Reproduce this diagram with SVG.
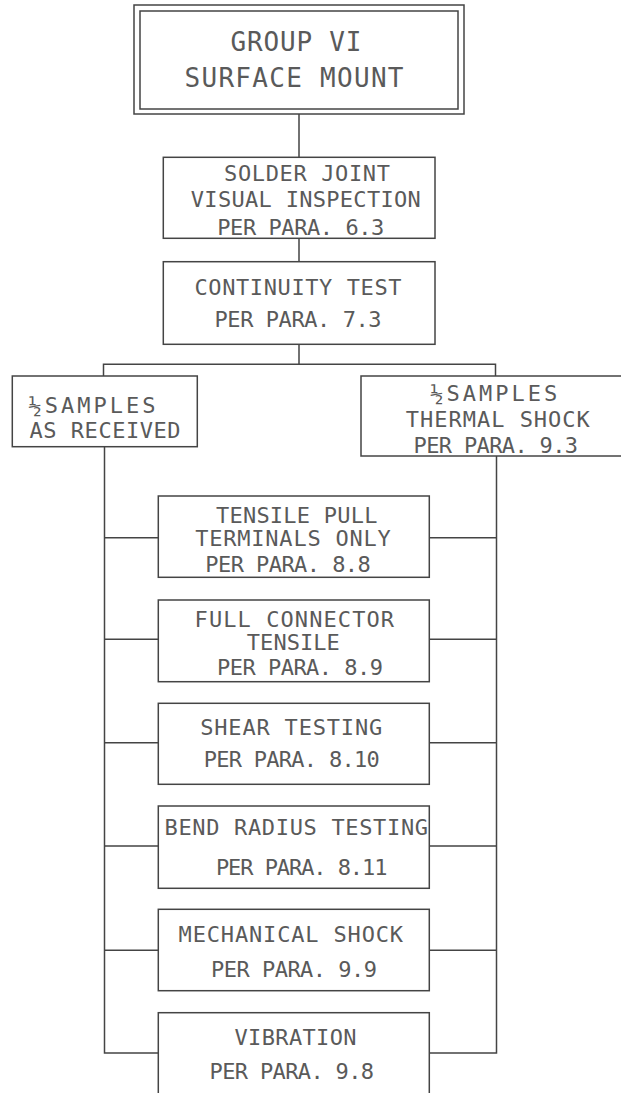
<svg xmlns="http://www.w3.org/2000/svg" width="621" height="1093" viewBox="0 0 621 1093">
<style>
.b{fill:#fff;stroke:#444;stroke-width:1.5}
.c{fill:none;stroke:#444;stroke-width:1.5}
text{font-family:"DejaVu Sans Mono","Liberation Mono",monospace;font-size:22px;fill:#5a5a5a;text-anchor:middle}
.t{font-size:26px}
.s{text-anchor:start}
</style>
<rect width="621" height="1093" fill="#fff"/>
<g id="connectors">
<path class="c" d="M299 114V157.3M299 238.3V261.7M299 344.3V364.3M103.5 376V364.3H495.5V376"/>
<path class="c" d="M104.5 446.7V1053H158.3M104.5 537.7H158.3M104.5 639.3H158.3M104.5 742.7H158.3M104.5 846H158.3M104.5 950.3H158.3"/>
<path class="c" d="M496.5 456V1053H429.3M496.5 537.7H429.3M496.5 639.3H429.3M496.5 742.7H429.3M496.5 846H429.3M496.5 950.3H429.3"/>
</g>
<g id="group6">
<rect class="b" x="134" y="5" width="330" height="109"/>
<rect class="b" x="140" y="11" width="318" height="98"/>
<text class="t" x="296" y="50.7" textLength="131" lengthAdjust="spacing">GROUP VI</text>
<text class="t" x="294" y="86.7" textLength="219" lengthAdjust="spacing">SURFACE MOUNT</text>
</g>
<g id="solder">
<rect class="b" x="163.3" y="157.3" width="271.7" height="81"/>
<text x="307" y="180.7" textLength="166" lengthAdjust="spacing">SOLDER JOINT</text>
<text x="305.8" y="207.3" textLength="230" lengthAdjust="spacing">VISUAL INSPECTION</text>
<text x="300.8" y="235" textLength="167" lengthAdjust="spacing">PER PARA. 6.3</text>
</g>
<g id="continuity">
<rect class="b" x="163.3" y="261.7" width="271.7" height="82.6"/>
<text x="298" y="295" textLength="207" lengthAdjust="spacing">CONTINUITY TEST</text>
<text x="298" y="327.3" textLength="167" lengthAdjust="spacing">PER PARA. 7.3</text>
</g>
<g id="as-received">
<rect class="b" x="12.3" y="376" width="185" height="70.7"/>
<text class="s" x="28.5" y="412.7" textLength="127" lengthAdjust="spacing">½SAMPLES</text>
<text class="s" x="29.5" y="437.7" textLength="151" lengthAdjust="spacing">AS RECEIVED</text>
</g>
<g id="thermal-shock">
<rect class="b" x="361" y="376" width="280" height="80"/>
<text x="493.8" y="400.7" textLength="127" lengthAdjust="spacing">½SAMPLES</text>
<text x="497.8" y="426.7" textLength="184" lengthAdjust="spacing">THERMAL SHOCK</text>
<text x="495.8" y="453.3" textLength="164.5" lengthAdjust="spacing">PER PARA. 9.3</text>
</g>
<g id="tensile-pull">
<rect class="b" x="158.3" y="496" width="271" height="81.3"/>
<text x="296.7" y="522.7" textLength="161.5" lengthAdjust="spacing">TENSILE PULL</text>
<text x="293" y="546" textLength="195.5" lengthAdjust="spacing">TERMINALS ONLY</text>
<text x="288" y="571.7" textLength="165.5" lengthAdjust="spacing">PER PARA. 8.8</text>
</g>
<g id="full-connector">
<rect class="b" x="158.3" y="600" width="271" height="81.7"/>
<text x="294.3" y="626.7" textLength="199.5" lengthAdjust="spacing">FULL CONNECTOR</text>
<text x="293.3" y="650" textLength="93" lengthAdjust="spacing">TENSILE</text>
<text x="300" y="675" textLength="166" lengthAdjust="spacing">PER PARA. 8.9</text>
</g>
<g id="shear">
<rect class="b" x="158.3" y="703.3" width="271" height="81"/>
<text x="291.2" y="735" textLength="182" lengthAdjust="spacing">SHEAR TESTING</text>
<text x="291.7" y="766.7" textLength="176" lengthAdjust="spacing">PER PARA. 8.10</text>
</g>
<g id="bend-radius">
<rect class="b" x="158.3" y="806" width="271" height="82.3"/>
<text x="296.3" y="835" textLength="263.5" lengthAdjust="spacing">BEND RADIUS TESTING</text>
<text x="301.7" y="875" textLength="171.5" lengthAdjust="spacing">PER PARA. 8.11</text>
</g>
<g id="mechanical-shock">
<rect class="b" x="158.3" y="909.3" width="271" height="81.4"/>
<text x="290.8" y="941.7" textLength="224.5" lengthAdjust="spacing">MECHANICAL SHOCK</text>
<text x="294" y="977.3" textLength="166" lengthAdjust="spacing">PER PARA. 9.9</text>
</g>
<g id="vibration">
<rect class="b" x="158.3" y="1012.7" width="271" height="90"/>
<text x="295.5" y="1045" textLength="122" lengthAdjust="spacing">VIBRATION</text>
<text x="291.8" y="1079" textLength="164.5" lengthAdjust="spacing">PER PARA. 9.8</text>
</g>
</svg>
